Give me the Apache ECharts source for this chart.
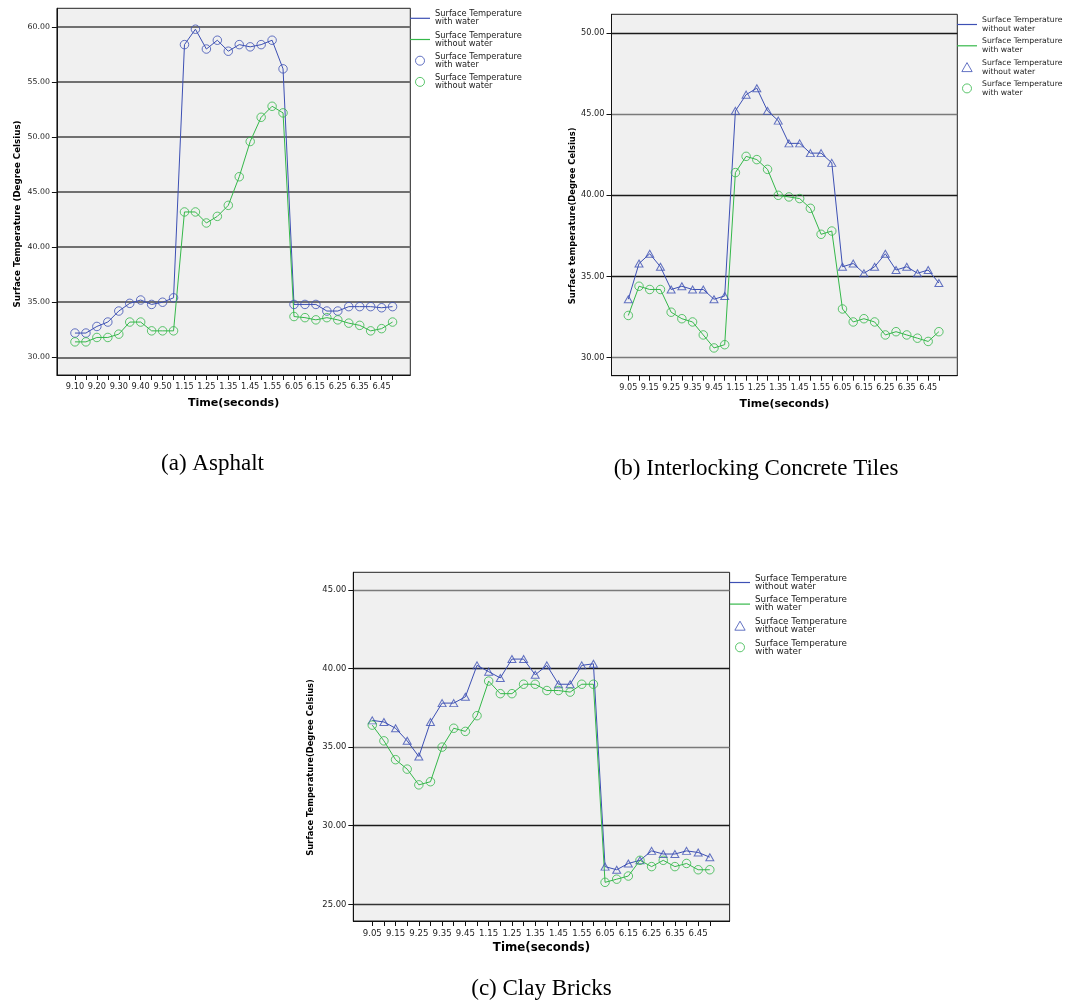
<!DOCTYPE html>
<html>
<head>
<meta charset="utf-8">
<title>Surface temperature with and without water</title>
<script src="https://cdn.jsdelivr.net/npm/echarts@6/dist/echarts.min.js"></script>
<style>
  html, body { margin: 0; padding: 0; background: #ffffff; }
  #chart { width: 1072px; height: 1003px; }
</style>
</head>
<body>
<div id="chart"></div>
<script>
// ---- Data -----------------------------------------------------------------
// Reading times (morning, noon, evening sessions)
const timesAsphalt = ['9.10','9.15','9.20','9.25','9.30','9.35','9.40','9.45','9.50','9.55',
                      '1.15','1.20','1.25','1.30','1.35','1.40','1.45','1.50','1.55','2.00',
                      '6.05','6.10','6.15','6.20','6.25','6.30','6.35','6.40','6.45','6.50'];
const timesTiles   = ['9.05','9.10','9.15','9.20','9.25','9.30','9.35','9.40','9.45','9.50',
                      '1.15','1.20','1.25','1.30','1.35','1.40','1.45','1.50','1.55','2.00',
                      '6.05','6.10','6.15','6.20','6.25','6.30','6.35','6.40','6.45','6.50'];
const timesBricks  = ['9.05','9.10','9.15','9.20','9.25','9.30','9.35','9.40','9.45','9.50',
                      '1.15','1.20','1.25','1.30','1.35','1.40','1.45','1.50','1.55','2.00',
                      '6.05','6.10','6.15','6.20','6.25','6.30','6.35','6.40','6.45','6.50'];

// (a) Asphalt, degrees Celsius
const asphaltWithWater    = [32.2, 32.2, 32.8, 33.2, 34.2, 34.9, 35.2, 34.8, 35.0, 35.4,
                             58.4, 59.8, 58.0, 58.8, 57.8, 58.4, 58.2, 58.4, 58.8, 56.2,
                             34.8, 34.8, 34.8, 34.2, 34.2, 34.6, 34.6, 34.6, 34.5, 34.6];
const asphaltWithoutWater = [31.4, 31.4, 31.8, 31.8, 32.1, 33.2, 33.2, 32.4, 32.4, 32.4,
                             43.2, 43.2, 42.2, 42.8, 43.8, 46.4, 49.6, 51.8, 52.8, 52.2,
                             33.7, 33.6, 33.4, 33.6, 33.4, 33.1, 32.9, 32.4, 32.6, 33.2];

// (b) Interlocking concrete tiles
const tilesWithoutWater = [33.6, 35.8, 36.4, 35.6, 34.2, 34.4, 34.2, 34.2, 33.6, 33.8,
                           45.2, 46.2, 46.6, 45.2, 44.6, 43.2, 43.2, 42.6, 42.6, 42.0,
                           35.6, 35.8, 35.2, 35.6, 36.4, 35.4, 35.6, 35.2, 35.4, 34.6];
const tilesWithWater    = [32.6, 34.4, 34.2, 34.2, 32.8, 32.4, 32.2, 31.4, 30.6, 30.8,
                           41.4, 42.4, 42.2, 41.6, 40.0, 39.9, 39.8, 39.2, 37.6, 37.8,
                           33.0, 32.2, 32.4, 32.2, 31.4, 31.6, 31.4, 31.2, 31.0, 31.6];

// (c) Clay bricks
const bricksWithoutWater = [36.7, 36.6, 36.2, 35.4, 34.4, 36.6, 37.8, 37.8, 38.2, 40.2,
                            39.8, 39.4, 40.6, 40.6, 39.6, 40.2, 39.0, 39.0, 40.2, 40.3,
                            27.4, 27.2, 27.6, 27.8, 28.4, 28.2, 28.2, 28.4, 28.3, 28.0];
const bricksWithWater    = [36.4, 35.4, 34.2, 33.6, 32.6, 32.8, 35.0, 36.2, 36.0, 37.0,
                            39.2, 38.4, 38.4, 39.0, 39.0, 38.6, 38.6, 38.5, 39.0, 39.0,
                            26.4, 26.6, 26.8, 27.8, 27.4, 27.8, 27.4, 27.6, 27.2, 27.2];

// Value-axis tick labels
const yTicksAsphalt = [30, 35, 40, 45, 50, 55, 60];
const yTicksTiles   = [30, 35, 40, 45, 50];
const yTicksBricks  = [25, 30, 35, 40, 45];

// ---- Styling ----------------------------------------------------------------
const BLUE = '#3d50b4';
const GREEN = '#35b84a';
const SANS = '"DejaVu Sans", "Liberation Sans", sans-serif';
const SERIF = '"Liberation Serif", "DejaVu Serif", serif';

const LABEL_WITH = 'Surface Temperature\nwith water';
const LABEL_WITHOUT = 'Surface Temperature\nwithout water';

// legend glyphs: a plain stroke for the connecting lines, open shapes for markers
const ICON_LINE = 'path://M0,0 L20,0 L20,1.2 L0,1.2 Z';
const ICON_MARK = {
  circle: 'circle',
  triangle: 'path://M4,0 L8,7 L0,7 Z'
};

const panels = [
  {
    id: 'Asphalt', times: timesAsphalt, yTicks: yTicksAsphalt,
    grid: { left: 56.9, top: 8.3, width: 353.4, height: 366.7 },
    xRange: [-1.65, 30.62], yRange: [28.39, 61.7],
    split: { colors: ['#707070'], width: 2 },
    tickFont: { x: 8.2, y: 7.8 },
    xTitle: { size: 11.1, gap: 23 },
    yTitle: { text: 'Surface Temperature (Degree Celsius)', x: 18, y: 214, size: 8.7 },
    caption: { text: '(a) Asphalt', x: 212.5, y: 464 },
    legend: { left: 410, top: 10.3, gap: 5.2, lineHeight: 8, size: 8.3 },
    series: [
      { label: LABEL_WITH,    values: asphaltWithWater,    color: BLUE,  symbol: 'circle', size: 8.5 },
      { label: LABEL_WITHOUT, values: asphaltWithoutWater, color: GREEN, symbol: 'circle', size: 8.5 }
    ]
  },
  {
    id: 'Tiles', times: timesTiles, yTicks: yTicksTiles,
    grid: { left: 611.5, top: 14.3, width: 345.8, height: 361.4 },
    xRange: [-1.57, 30.72], yRange: [28.89, 51.15],
    split: { colors: ['#7a7a7a', '#1a1a1a', '#1a1a1a', '#7a7a7a', '#1a1a1a'], width: 1.4 },
    tickFont: { x: 8.1, y: 8.2 },
    xTitle: { size: 10.9, gap: 22.5 },
    yTitle: { text: 'Surface temperature(Degree Celsius)', x: 573.1, y: 215.8, size: 8.4 },
    caption: { text: '(b) Interlocking Concrete Tiles', x: 756, y: 469 },
    legend: { left: 957, top: 15.5, gap: 3.3, lineHeight: 9, size: 7.7 },
    series: [
      { label: LABEL_WITHOUT, values: tilesWithoutWater, color: BLUE,  symbol: 'triangle', size: [8, 7] },
      { label: LABEL_WITH,    values: tilesWithWater,    color: GREEN, symbol: 'circle',   size: 8.5 }
    ]
  },
  {
    id: 'Bricks', times: timesBricks, yTicks: yTicksBricks,
    grid: { left: 353.3, top: 572.3, width: 376.3, height: 348.7 },
    xRange: [-1.63, 30.7], yRange: [23.94, 46.12],
    split: { colors: ['#333333', '#1a1a1a', '#7a7a7a', '#1a1a1a', '#7a7a7a'], width: 1.4 },
    tickFont: { x: 8.6, y: 8.4 },
    xTitle: { size: 11.8, gap: 21 },
    yTitle: { text: 'Surface Temperature(Degree Celsius)', x: 311.3, y: 767.5, size: 8.35 },
    caption: { text: '(c) Clay Bricks', x: 541.5, y: 989 },
    legend: { left: 730, top: 574, gap: 4.6, lineHeight: 8, size: 8.8 },
    series: [
      { label: LABEL_WITHOUT, values: bricksWithoutWater, color: BLUE,  symbol: 'triangle', size: [8, 7] },
      { label: LABEL_WITH,    values: bricksWithWater,    color: GREEN, symbol: 'circle',   size: 8.5 }
    ]
  }
];

// ---- Option assembly --------------------------------------------------------
const option = {
  animation: false,
  backgroundColor: '#ffffff',
  grid: [], xAxis: [], yAxis: [], series: [], legend: [], graphic: []
};

// legend entry name -> displayed two-line text
const legendText = {};

panels.forEach((p, i) => {
  const allIdx = p.times.map((_, k) => k);
  const evenIdx = allIdx.filter(k => k % 2 === 0);

  option.grid.push(Object.assign({
    show: true, backgroundColor: '#f0f0f0', borderColor: '#222', borderWidth: 1, containLabel: false
  }, p.grid));

  option.xAxis.push({
    type: 'value', gridIndex: i, min: p.xRange[0], max: p.xRange[1],
    axisLine: { show: true, onZero: false, lineStyle: { color: '#111', width: 1 } },
    axisTick: { show: true, length: 5, customValues: allIdx, lineStyle: { color: '#111' } },
    axisLabel: {
      customValues: evenIdx, formatter: v => p.times[v], margin: 8,
      fontFamily: SANS, fontSize: p.tickFont.x, color: '#222'
    },
    splitLine: { show: false },
    name: 'Time(seconds)', nameLocation: 'middle', nameGap: p.xTitle.gap,
    nameTextStyle: { fontFamily: SANS, fontWeight: 'bold', fontSize: p.xTitle.size, color: '#000' }
  });

  option.yAxis.push({
    type: 'value', gridIndex: i, min: p.yRange[0], max: p.yRange[1],
    axisLine: { show: true, onZero: false, lineStyle: { color: '#111', width: 1 } },
    axisTick: { show: true, length: 5, customValues: p.yTicks, lineStyle: { color: '#111' } },
    axisLabel: {
      customValues: p.yTicks, formatter: v => Number(v).toFixed(2), margin: 7,
      fontFamily: SANS, fontSize: p.tickFont.y, color: '#222'
    },
    splitLine: { show: true, lineStyle: { color: p.split.colors, width: p.split.width } }
  });

  const lineItems = [], markItems = [];
  p.series.forEach(s => {
    const pts = s.values.map((v, k) => [k, v]);
    const lineName = p.id + ' ' + s.label.replace('\n', ' ') + ' line';
    const markName = p.id + ' ' + s.label.replace('\n', ' ') + ' marker';
    legendText[lineName] = s.label;
    legendText[markName] = s.label;
    lineItems.push({ name: lineName, icon: ICON_LINE, itemStyle: { color: s.color, borderWidth: 0 } });
    markItems.push({
      name: markName, icon: ICON_MARK[s.symbol],
      itemStyle: { color: 'rgba(0,0,0,0)', borderColor: s.color, borderWidth: 1 }
    });

    option.series.push({
      type: 'line', name: lineName, xAxisIndex: i, yAxisIndex: i, data: pts,
      symbol: 'none', showSymbol: false, lineStyle: { color: s.color, width: 1 }, itemStyle: { color: s.color },
      z: 2, silent: true
    });
    option.series.push({
      type: 'scatter', name: markName, xAxisIndex: i, yAxisIndex: i, data: pts,
      symbol: s.symbol, symbolSize: s.size,
      itemStyle: { color: 'rgba(0,0,0,0)', borderColor: s.color, borderWidth: 1 },
      z: 3, silent: true
    });
  });

  option.legend.push({
    orient: 'vertical', left: p.legend.left, top: p.legend.top, padding: 0,
    itemGap: p.legend.gap, itemWidth: 20, itemHeight: 9, selectedMode: false,
    symbolKeepAspect: true,
    data: lineItems.concat(markItems),
    formatter: name => legendText[name],
    textStyle: { fontFamily: SANS, fontSize: p.legend.size, lineHeight: p.legend.lineHeight, color: '#222' }
  });

  option.graphic.push({
    type: 'text', x: p.yTitle.x, y: p.yTitle.y, rotation: Math.PI / 2, silent: true,
    style: {
      text: p.yTitle.text, fill: '#000',
      font: 'bold ' + p.yTitle.size + 'px ' + SANS,
      textAlign: 'center', textVerticalAlign: 'middle', align: 'center', verticalAlign: 'middle'
    }
  });
  option.graphic.push({
    type: 'text', x: p.caption.x, y: p.caption.y, silent: true,
    style: {
      text: p.caption.text, fill: '#000',
      font: '23px ' + SERIF,
      textAlign: 'center', textVerticalAlign: 'middle', align: 'center', verticalAlign: 'middle'
    }
  });
});

const chart = echarts.init(document.getElementById('chart'), null, { renderer: 'canvas' });
chart.setOption(option);
</script>
</body>
</html>
